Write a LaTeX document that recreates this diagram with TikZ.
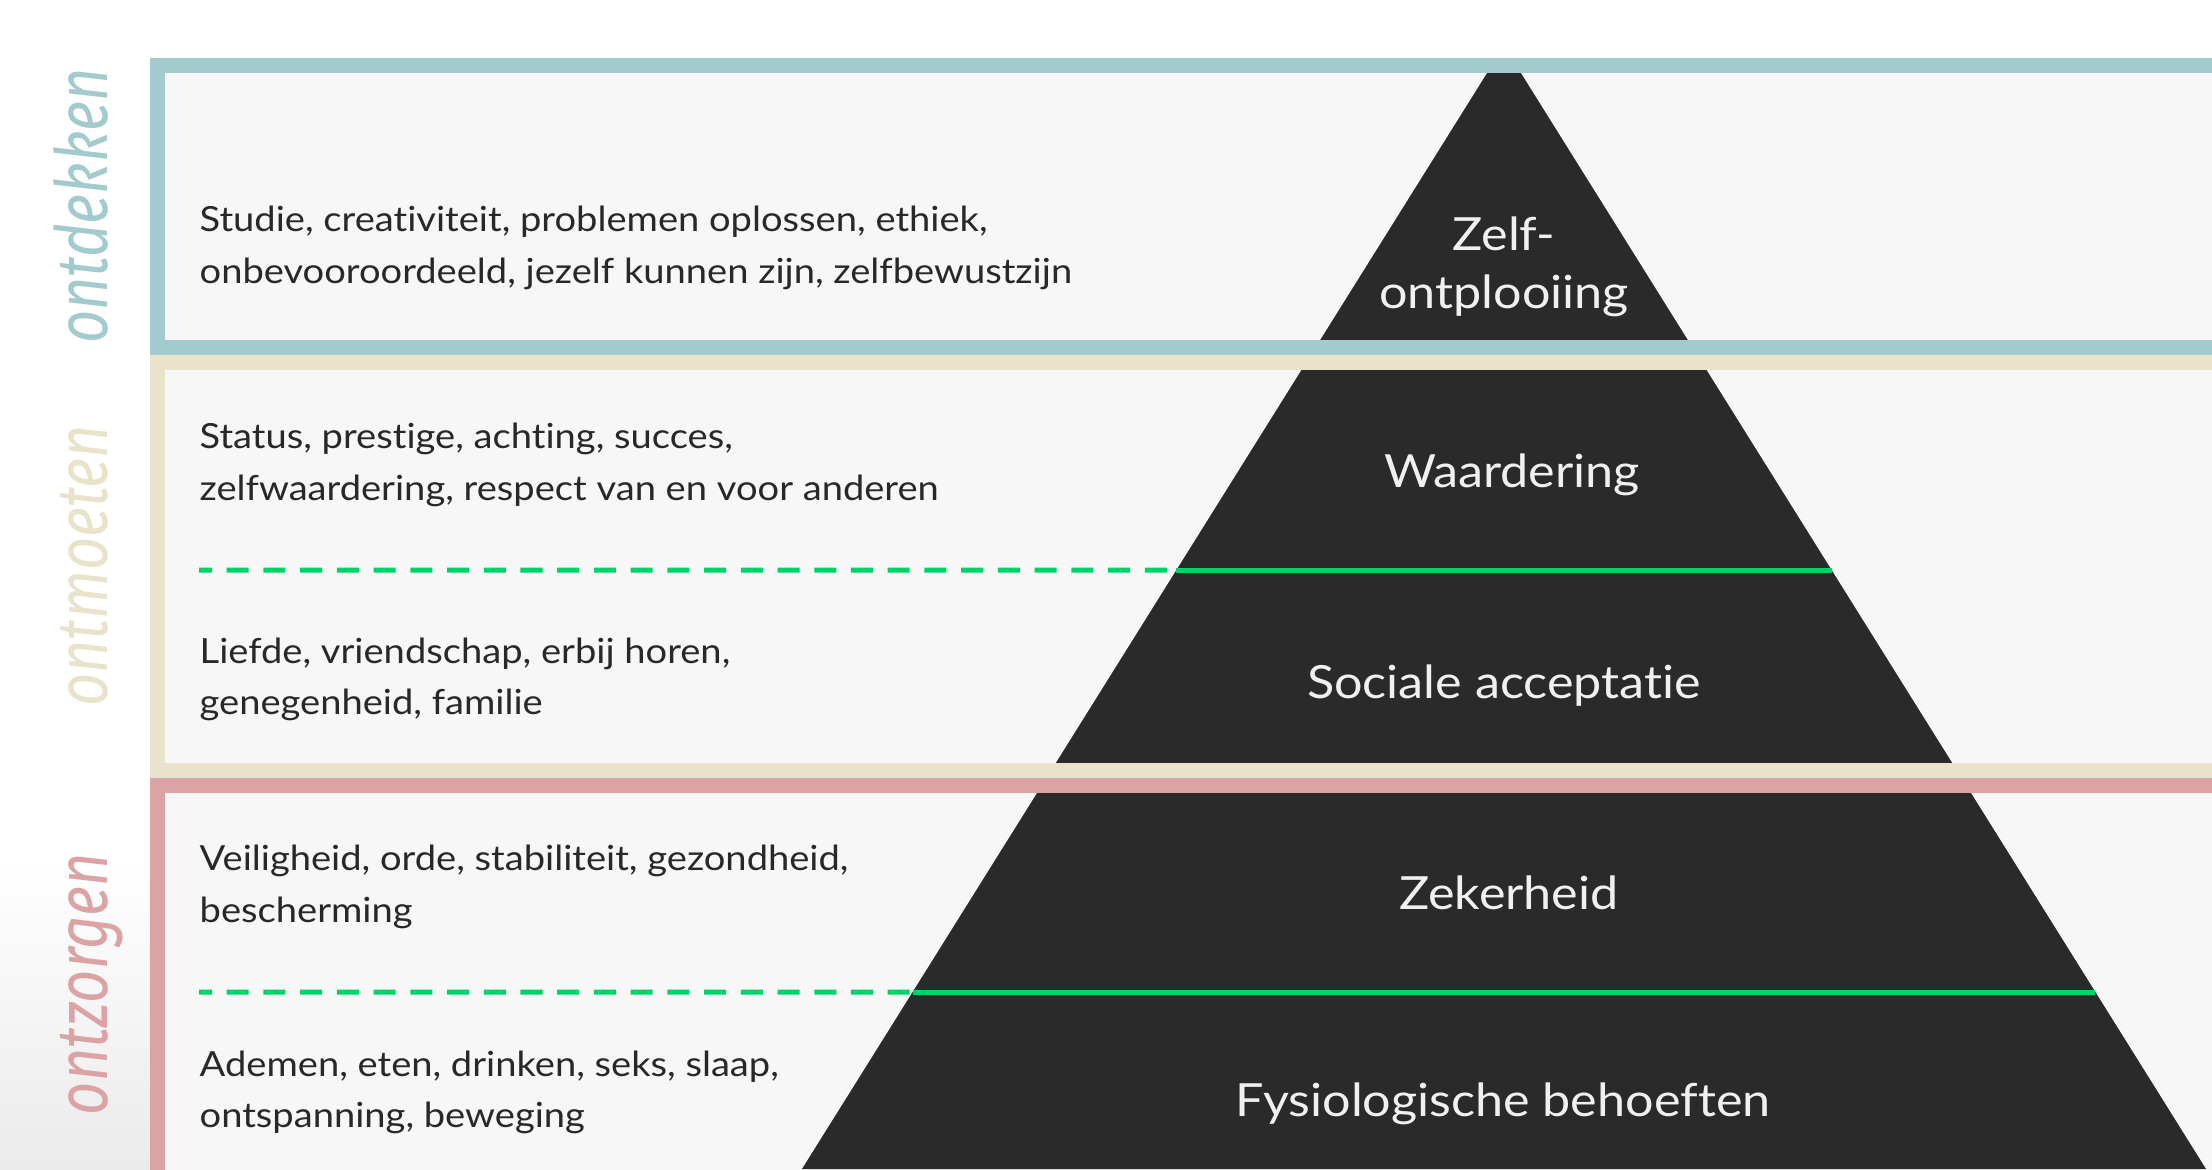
\documentclass[tikz,border=0pt]{standalone}
\usepackage{fontspec}
\setmainfont{Lato}[FakeStretch=1.1, Ligatures=NoCommon]
\newfontfamily\sidefont[FakeStretch=0.8]{Fira Sans}
\usetikzlibrary{calc}

\definecolor{tealframe}{RGB}{163,202,205}
\definecolor{beigeframe}{RGB}{233,227,204}
\definecolor{pinkframe}{RGB}{219,163,164}
\definecolor{panelgrey}{RGB}{247,247,247}
\definecolor{pyramidgrey}{RGB}{42,42,42}
\definecolor{linegreen}{RGB}{0,210,106}
\definecolor{textgrey}{RGB}{40,40,40}

\tikzset{
	needtext/.style={anchor=base west, inner sep=0pt, text=textgrey, font=\fontsize{9.85}{11}\selectfont},
	leveltext/.style={anchor=base, inner sep=0pt, text=white!94!black, font=\fontsize{13}{15}\selectfont},
	sidelabel/.style={anchor=base, inner sep=0pt, rotate=90, font=\sidefont\itshape\fontsize{20.5}{24}\selectfont},
	frameline/.style={line width=0.15cm},
	greendash/.style={linegreen, line width=0.05cm, dash pattern=on 0.22cm off 0.147cm, dash phase=0.09cm},
	greensolid/.style={linegreen, line width=0.05cm}
}

\begin{document}
\begin{tikzpicture}[x=0.01cm, y=-0.01cm]
			%%%%% START %%%%%
			
			\useasboundingbox (0, 0) rectangle (2212, 1169);
			\clip (0, 0) rectangle (2212, 1169);
			\fill[white] (0, 0) rectangle (2212, 1169);
			\shade[top color=white, bottom color=black!8] (0, 860) rectangle (150, 1169);
			
			\fill[panelgrey] (150, 58) rectangle (2240, 1200);
			
			% pyramid
			\coordinate (top) at (1504, 46);
			\coordinate (baseL) at (802, 1169);
			\coordinate (baseR) at (2206, 1169);
			\begin{scope}
				\clip (150, 58) rectangle (2240, 1200);
				\fill[pyramidgrey] (top) -- (baseR) -- (baseL) -- cycle;
			\end{scope}
			
			% green level lines
			\coordinate (lineAstart) at (199, 570);
			\coordinate (lineAL) at ($(top)!0.4666!(baseL)$);
			\coordinate (lineAR) at ($(top)!0.4666!(baseR)$);
			\draw[greendash] (lineAstart) -- (lineAL);
			\draw[greensolid] (lineAL) -- (lineAR);
			
			\coordinate (lineBstart) at (199, 992);
			\coordinate (lineBL) at ($(top)!0.8424!(baseL)$);
			\coordinate (lineBR) at ($(top)!0.8424!(baseR)$);
			\draw[greendash] (lineBstart) -- (lineBL);
			\draw[greensolid] (lineBL) -- (lineBR);
			
			% frames
			\draw[frameline, tealframe] (157.5, 65.5) rectangle (2240, 347.5);
			\draw[frameline, beigeframe] (157.5, 362.5) rectangle (2240, 770.5);
			\draw[frameline, pinkframe] (157.5, 785.5) rectangle (2240, 1200);
			
			% needs
			\node[needtext] (studie) at (199, 231) {Studie, creativiteit, problemen oplossen, ethiek,};
			\node[needtext] (onbevooroordeeld) at (199, 283) {onbevooroordeeld, jezelf kunnen zijn, zelfbewustzijn};
			\node[needtext] (status) at (199, 448) {Status, prestige, achting, succes,};
			\node[needtext] (zelfwaardering) at (199, 500) {zelfwaardering, respect van en voor anderen};
			\node[needtext] (liefde) at (199, 663) {Liefde, vriendschap, erbij horen,};
			\node[needtext] (genegenheid) at (199, 714) {genegenheid, familie};
			\node[needtext] (veiligheid) at (199, 870) {Veiligheid, orde, stabiliteit, gezondheid,};
			\node[needtext] (bescherming) at (199, 922) {bescherming};
			\node[needtext] (ademen) at (199, 1076) {Ademen, eten, drinken, seks, slaap,};
			\node[needtext] (ontspanning) at (199, 1127) {ontspanning, beweging};
			
			% levels
			\node[leveltext] (zelf) at (1504, 250) {Zelf-};
			\node[leveltext] (ontplooiing) at (1504, 308) {ontplooiing};
			\node[leveltext] (waardering) at (1512, 487) {Waardering};
			\node[leveltext] (sociale) at (1504, 698) {Sociale acceptatie};
			\node[leveltext] (zekerheid) at (1509, 909) {Zekerheid};
			\node[leveltext] (fysiologisch) at (1503, 1116) {Fysiologische behoeften};
			
			% side labels
			\node[sidelabel, text=tealframe] (ontdekken) at (107, 206) {ontdekken};
			\node[sidelabel, text=beigeframe] (ontmoeten) at (107, 566) {ontmoeten};
			\node[sidelabel, text=pinkframe] (ontzorgen) at (107, 984) {ontzorgen};
			
			%%%%% END %%%%%
\end{tikzpicture}
\end{document}
